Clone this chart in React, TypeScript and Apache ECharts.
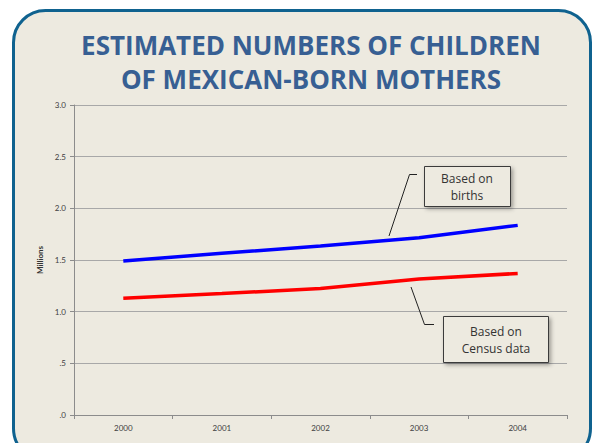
import React, { useEffect, useRef } from "react";
import * as echarts from "echarts";

const years = ["2000", "2001", "2002", "2003", "2004"];
const basedOnBirths = [1.49, 1.565, 1.635, 1.715, 1.835];
const basedOnCensus = [1.13, 1.175, 1.225, 1.315, 1.37];
const yTickLabels = [".0", ".5", "1.0", "1.5", "2.0", "2.5", "3.0"];
const titleLines = ["ESTIMATED NUMBERS OF CHILDREN", "OF MEXICAN-BORN MOTHERS"];
const noteBirths = "Based on\nbirths";
const noteCensus = "Based on\nCensus data";

export default function App() {
  const ref = useRef<HTMLDivElement>(null);
  useEffect(() => {
    if (!ref.current) return;
    const chart = echarts.init(ref.current, undefined, { renderer: "svg" });
    const bg = "#edeae0";
    const boxStyle = {
      fill: bg,
      stroke: "#3a3a3a",
      lineWidth: 1,
      shadowBlur: 4,
      shadowColor: "rgba(0,0,0,0.35)",
      shadowOffsetX: 2,
      shadowOffsetY: 2,
    };
    const noteText = {
      fill: "#333333",
      fontFamily: "Open Sans",
      fontSize: 12,
      align: "center",
      verticalAlign: "middle",
      lineHeight: 17,
    };
    chart.setOption({
      animation: false,
      backgroundColor: "#ffffff",
      graphic: [
        {
          type: "rect",
          z: -10,
          silent: true,
          shape: { x: 13.5, y: 10.5, width: 577, height: 450, r: 32 },
          style: { fill: bg, stroke: "#0f628f", lineWidth: 3 },
        },
        {
          type: "text",
          z: 10,
          style: {
            text: titleLines.join("\n"),
            x: 311,
            y: 62,
            align: "center",
            verticalAlign: "middle",
            fill: "#375f93",
            fontFamily: "Open Sans",
            fontWeight: "bold",
            fontSize: 26,
            lineHeight: 34,
          },
        },
        {
          type: "rect",
          z: 10,
          shape: { x: 424.5, y: 166.5, width: 86, height: 40 },
          style: boxStyle,
        },
        {
          type: "text",
          z: 11,
          style: { ...noteText, text: noteBirths, x: 467, y: 187 },
        },
        {
          type: "polyline",
          z: 10,
          shape: { points: [[417, 174.5], [409.5, 174.5], [389, 236]] },
          style: { stroke: "#222222", lineWidth: 1, fill: "none" },
        },
        {
          type: "rect",
          z: 10,
          shape: { x: 443.5, y: 316.5, width: 105, height: 46 },
          style: boxStyle,
        },
        {
          type: "text",
          z: 11,
          style: { ...noteText, text: noteCensus, x: 496, y: 340 },
        },
        {
          type: "polyline",
          z: 10,
          shape: { points: [[411, 287], [424.5, 324.5], [434, 324.5]] },
          style: { stroke: "#222222", lineWidth: 1, fill: "none" },
        },
      ],
      grid: { left: 74, right: 26, top: 105, bottom: 28, containLabel: false },
      xAxis: {
        type: "category",
        data: years,
        boundaryGap: true,
        axisLine: { lineStyle: { color: "#8c8c8c", width: 1 } },
        axisTick: { show: true, length: 4, lineStyle: { color: "#8c8c8c" } },
        axisLabel: {
          color: "#404040",
          fontSize: 8,
          fontFamily: "Lato",
          margin: 9,
        },
      },
      yAxis: {
        type: "value",
        min: 0,
        max: 3,
        interval: 0.5,
        name: "Millions",
        nameLocation: "middle",
        nameGap: 30,
        nameRotate: 90,
        nameTextStyle: {
          fontSize: 8,
          fontWeight: "bold",
          color: "#333333",
          fontFamily: "Lato",
        },
        axisLine: { show: true, lineStyle: { color: "#8c8c8c", width: 1 } },
        axisTick: { show: true, length: 4, lineStyle: { color: "#8c8c8c" } },
        axisLabel: {
          color: "#404040",
          fontSize: 8,
          fontFamily: "Lato",
          margin: 8,
          formatter: (_v: number, i: number) => yTickLabels[i],
        },
        splitLine: { show: true, lineStyle: { color: "#a8a8a8", width: 1 } },
      },
      series: [
        {
          name: "Based on births",
          type: "line",
          data: basedOnBirths,
          symbol: "none",
          lineStyle: { color: "#0000ff", width: 3.5 },
          z: 3,
        },
        {
          name: "Based on Census data",
          type: "line",
          data: basedOnCensus,
          symbol: "none",
          lineStyle: { color: "#ff0000", width: 3.5 },
          z: 3,
        },
      ],
    });
    return () => chart.dispose();
  }, []);
  return (
    <div
      ref={ref}
      style={{ position: "fixed", left: 0, top: 0, width: 593, height: 443 }}
    />
  );
}
